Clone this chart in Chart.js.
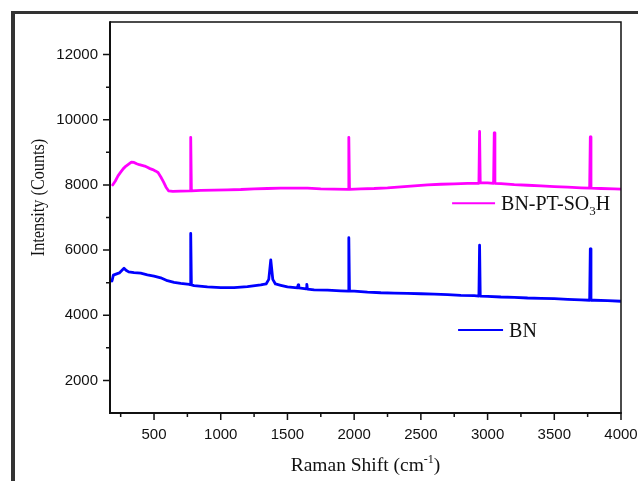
<!DOCTYPE html>
<html>
<head>
<meta charset="utf-8">
<script src="https://cdn.jsdelivr.net/npm/chart.js@4.4.1/dist/chart.umd.min.js"></script>
<style>
  body { margin: 0; background: #fff; }
  canvas { display: block; }
</style>
</head>
<body>
<canvas id="ramanChart" width="638" height="481"></canvas>
<script>
// Raman spectra (shift in cm-1, intensity in counts)
const ptShift = [190, 210, 230, 250, 270, 290, 310, 330, 350, 370, 390, 410, 430, 450, 470, 490, 510, 530, 550, 570, 590, 610, 640, 700, 770, 775, 780, 850, 950, 1050, 1150, 1250, 1350, 1450, 1550, 1650, 1750, 1850, 1955, 1960, 1965, 2050, 2150, 2250, 2350, 2450, 2550, 2650, 2750, 2850, 2935, 2940, 2945, 3000, 3045, 3050, 3055, 3100, 3200, 3300, 3400, 3500, 3600, 3700, 3765, 3770, 3775, 3850, 3950, 4000];
const ptCounts = [8000, 8120, 8280, 8390, 8500, 8580, 8640, 8700, 8690, 8650, 8620, 8600, 8580, 8540, 8500, 8470, 8430, 8380, 8250, 8100, 7930, 7815, 7800, 7810, 7820, 9460, 7820, 7830, 7840, 7850, 7860, 7880, 7890, 7900, 7900, 7900, 7880, 7870, 7865, 9460, 7865, 7880, 7890, 7910, 7940, 7970, 8000, 8020, 8035, 8045, 8050, 9640, 8060, 8060, 8050, 9600, 8050, 8040, 8010, 7990, 7970, 7950, 7930, 7910, 7900, 9470, 7900, 7890, 7880, 7870];

const bnShift = [185, 195, 220, 240, 260, 275, 290, 310, 350, 400, 450, 500, 550, 600, 650, 700, 765, 770, 775, 780, 800, 900, 1000, 1100, 1200, 1300, 1340, 1360, 1375, 1390, 1410, 1450, 1500, 1575, 1580, 1585, 1640, 1645, 1650, 1700, 1800, 1900, 1955, 1960, 1965, 2000, 2100, 2200, 2300, 2400, 2500, 2600, 2700, 2800, 2900, 2935, 2940, 2945, 3000, 3100, 3200, 3300, 3400, 3500, 3600, 3700, 3765, 3770, 3775, 3800, 3900, 4000];
const bnCounts = [5050, 5230, 5270, 5300, 5380, 5440, 5380, 5330, 5310, 5290, 5240, 5200, 5150, 5060, 5010, 4980, 4950, 4940, 6510, 4930, 4910, 4870, 4850, 4850, 4880, 4930, 4960, 5100, 5700, 5100, 4960, 4920, 4870, 4840, 4930, 4840, 4810, 4950, 4800, 4780, 4770, 4750, 4740, 6380, 4740, 4740, 4710, 4690, 4680, 4670, 4660, 4650, 4630, 4610, 4600, 4590, 6150, 4590, 4580, 4560, 4550, 4530, 4520, 4510, 4490, 4470, 4460, 6040, 4460, 4460, 4450, 4430];

const xTicks = [250, 500, 750, 1000, 1250, 1500, 1750, 2000, 2250, 2500, 2750, 3000, 3250, 3500, 3750, 4000];
const yTicks = [2000, 3000, 4000, 5000, 6000, 7000, 8000, 9000, 10000, 11000, 12000];

const serif = '"Liberation Serif", "Times New Roman", serif';
const sans = '"Liberation Sans", Arial, sans-serif';

function toPoints(xs, ys) {
    return xs.map(function (x, i) { return { x: x, y: ys[i] }; });
}

// frame, box, tick marks, legend and axis titles
const decorPlugin = {
    id: 'decor',
    beforeDraw(chart) {
        const ctx = chart.ctx;
        ctx.save();
        ctx.fillStyle = '#fff';
        ctx.fillRect(0, 0, chart.width, chart.height);
        ctx.fillStyle = '#333';
        ctx.fillRect(11, 11, 4, chart.height - 11);
        ctx.fillRect(11, 11, chart.width - 11, 3);
        ctx.restore();
    },
    afterDraw(chart) {
        const ctx = chart.ctx;
        const a = chart.chartArea;
        const xs = chart.scales.x;
        const ys = chart.scales.y;
        ctx.save();
        ctx.strokeStyle = '#111';

        // box
        ctx.lineWidth = 1.5;
        ctx.beginPath();
        ctx.moveTo(a.left, a.top);
        ctx.lineTo(a.right, a.top);
        ctx.lineTo(a.right, a.bottom);
        ctx.stroke();
        ctx.lineWidth = 2;
        ctx.beginPath();
        ctx.moveTo(a.left, a.top - 0.75);
        ctx.lineTo(a.left, a.bottom);
        ctx.lineTo(a.right + 0.75, a.bottom);
        ctx.stroke();

        // tick marks, outward
        ctx.lineWidth = 1.5;
        ctx.beginPath();
        xs.ticks.forEach(function (t) {
            const px = xs.getPixelForValue(t.value);
            const len = t.value % 500 === 0 ? 7 : 4;
            ctx.moveTo(px, a.bottom);
            ctx.lineTo(px, a.bottom + len);
        });
        ys.ticks.forEach(function (t) {
            const py = ys.getPixelForValue(t.value);
            const len = t.value % 2000 === 0 ? 7 : 4;
            ctx.moveTo(a.left, py);
            ctx.lineTo(a.left - len, py);
        });
        ctx.stroke();

        // legend
        const entries = [
            { color: '#ff00ff', x0: 2734, x1: 3056, y: 7440, parts: [['BN-PT-SO', 0], ['3', 1], ['H', 0]] },
            { color: '#0000ff', x0: 2779, x1: 3116, y: 3550, parts: [['BN', 0]] }
        ];
        entries.forEach(function (e) {
            const py = ys.getPixelForValue(e.y);
            const p0 = xs.getPixelForValue(e.x0);
            const p1 = xs.getPixelForValue(e.x1);
            ctx.strokeStyle = e.color;
            ctx.lineWidth = 2;
            ctx.beginPath();
            ctx.moveTo(p0, py);
            ctx.lineTo(p1, py);
            ctx.stroke();
            let tx = p1 + 6;
            ctx.fillStyle = '#111';
            ctx.textBaseline = 'alphabetic';
            ctx.textAlign = 'left';
            e.parts.forEach(function (p) {
                ctx.font = (p[1] ? 13 : 20) + 'px ' + serif;
                ctx.fillText(p[0], tx, py + 7 + (p[1] ? 5 : 0));
                tx += ctx.measureText(p[0]).width;
            });
        });

        // x title with superscript
        ctx.fillStyle = '#111';
        const parts = [['Raman Shift (cm', 0], ['-1', 1], [')', 0]];
        let w = 0;
        parts.forEach(function (p) {
            ctx.font = (p[1] ? 12 : 19.5) + 'px ' + serif;
            w += ctx.measureText(p[0]).width;
        });
        let tx = (a.left + a.right) / 2 - w / 2;
        parts.forEach(function (p) {
            ctx.font = (p[1] ? 12 : 19.5) + 'px ' + serif;
            ctx.fillText(p[0], tx, 471 - (p[1] ? 8 : 0));
            tx += ctx.measureText(p[0]).width;
        });

        // y title
        ctx.translate(44, 197.5);
        ctx.rotate(-Math.PI / 2);
        ctx.scale(0.9, 1);
        ctx.textAlign = 'center';
        ctx.font = '18px ' + serif;
        ctx.fillText('Intensity (Counts)', 0, 0);
        ctx.restore();
    }
};

const config = {
    type: 'line',
    data: {
        datasets: [{
            label: 'BN-PT-SO3H',
            data: toPoints(ptShift, ptCounts),
            borderColor: '#ff00ff',
            borderWidth: 2.8,
            borderJoinStyle: 'round',
            borderCapStyle: 'round',
            pointRadius: 0,
            tension: 0
        }, {
            label: 'BN',
            data: toPoints(bnShift, bnCounts),
            borderColor: '#0000ff',
            borderWidth: 2.8,
            borderJoinStyle: 'round',
            borderCapStyle: 'round',
            pointRadius: 0,
            tension: 0
        }]
    },
    options: {
        responsive: false,
        animation: false,
        layout: { padding: { top: 22, right: 0, left: 0, bottom: 0 } },
        plugins: {
            legend: { display: false },
            tooltip: { enabled: false }
        },
        scales: {
            x: {
                type: 'linear',
                min: 170,
                max: 4000,
                grid: { display: false, drawTicks: false },
                border: { display: false },
                afterBuildTicks: function (scale) {
                    scale.ticks = xTicks.map(function (v) { return { value: v }; });
                },
                afterFit: function (scale) {
                    scale.height = 68;
                    scale.paddingRight = 17;
                },
                ticks: {
                    autoSkip: false,
                    maxRotation: 0,
                    padding: 13,
                    color: '#111',
                    font: { family: sans, size: 15 },
                    callback: function (v) { return v % 500 === 0 ? String(v) : ''; }
                }
            },
            y: {
                min: 1000,
                max: 13000,
                grid: { display: false, drawTicks: false },
                border: { display: false },
                afterBuildTicks: function (scale) {
                    scale.ticks = yTicks.map(function (v) { return { value: v }; });
                },
                afterFit: function (scale) { scale.width = 110; },
                ticks: {
                    autoSkip: false,
                    padding: 12,
                    color: '#111',
                    font: { family: sans, size: 15 },
                    callback: function (v) { return v % 2000 === 0 ? String(v) : ''; }
                }
            }
        }
    },
    plugins: [decorPlugin]
};

new Chart(document.getElementById('ramanChart'), config);
</script>
</body>
</html>
